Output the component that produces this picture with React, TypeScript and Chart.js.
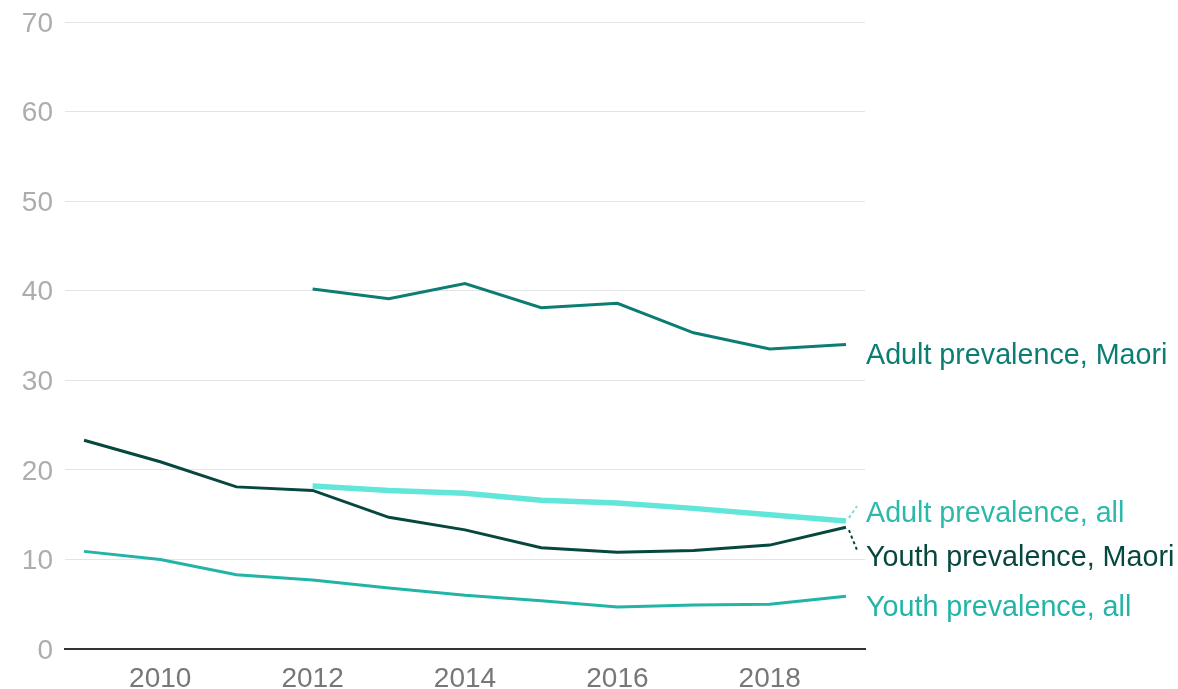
import React, { useEffect, useRef } from "react";
import { Chart, registerables } from "chart.js";

Chart.register(...registerables);

const YEARS_ALL = [2009, 2010, 2011, 2012, 2013, 2014, 2015, 2016, 2017, 2018, 2019];
const YEARS_ADULT = [2012, 2013, 2014, 2015, 2016, 2017, 2018, 2019];

const adultMaori = [40.2, 39.1, 40.8, 38.1, 38.6, 35.3, 33.5, 34.0];
const adultAll = [18.2, 17.7, 17.4, 16.6, 16.3, 15.7, 15.0, 14.3];
const youthMaori = [23.3, 20.9, 18.1, 17.7, 14.7, 13.3, 11.3, 10.8, 11.0, 11.6, 13.6];
const youthAll = [10.9, 10.0, 8.3, 7.7, 6.8, 6.0, 5.4, 4.7, 4.9, 5.0, 5.9];

const X_TICKS = [2010, 2012, 2014, 2016, 2018];
const Y_TICKS = [0, 10, 20, 30, 40, 50, 60, 70];

const SERIES = [
  { name: "Adult prevalence, Maori", years: YEARS_ADULT, values: adultMaori, line: "#0c7d72", text: "#0c7d72", width: 3 },
  { name: "Adult prevalence, all", years: YEARS_ADULT, values: adultAll, line: "#62e6d9", text: "#2cb9ab", width: 5.5 },
  { name: "Youth prevalence, Maori", years: YEARS_ALL, values: youthMaori, line: "#06473f", text: "#06473f", width: 3 },
  { name: "Youth prevalence, all", years: YEARS_ALL, values: youthAll, line: "#21b4a7", text: "#21b4a7", width: 3 },
];

const labelPlugin = {
  id: "endLabels",
  afterDatasetsDraw(chart: any) {
    const { ctx, chartArea, scales } = chart;
    const y = scales.y;
    const x = scales.x;
    const off = 12;
    const items = SERIES.map((s, i) => {
      const v = s.values[s.values.length - 1];
      const py = y.getPixelForValue(v);
      const px = x.getPixelForValue(s.years[s.years.length - 1]);
      return { s, i, py, px, center: py + off };
    });
    const sorted = [...items].sort((a, b) => a.center - b.center);
    const gap = 44;
    for (let iter = 0; iter < 20; iter++) {
      for (let k = 0; k < sorted.length - 1; k++) {
        const a = sorted[k], b = sorted[k + 1];
        const d = b.center - a.center;
        if (d < gap) {
          const push = (gap - d) / 2;
          a.center -= push;
          b.center += push;
        }
      }
    }
    ctx.save();
    ctx.font = "28.7px 'Liberation Sans', Arial, sans-serif";
    ctx.textBaseline = "middle";
    ctx.textAlign = "left";
    items.forEach((it) => {
      const desired = it.py + off;
      if (Math.abs(it.center - desired) > 4) {
        const up = it.center < desired;
        ctx.beginPath();
        ctx.setLineDash([3, 3]);
        ctx.lineWidth = 2;
        ctx.strokeStyle = it.s.line;
        ctx.moveTo(it.px + 3, it.py + (up ? -3 : 3));
        ctx.lineTo(chartArea.right - 8, it.center - 8);
        ctx.stroke();
        ctx.setLineDash([]);
      }
      ctx.fillStyle = it.s.text;
      ctx.fillText(it.s.name, chartArea.right + 1, it.center);
    });
    ctx.restore();
  },
};

export default function App() {
  const ref = useRef<HTMLCanvasElement | null>(null);
  useEffect(() => {
    document.body.style.margin = "0";
    const chart = new Chart(ref.current!, {
      type: "line",
      data: {
        datasets: SERIES.map((s) => ({
          label: s.name,
          data: s.years.map((yr, i) => ({ x: yr, y: s.values[i] })),
          borderColor: s.line,
          backgroundColor: s.line,
          borderWidth: s.width,
          pointRadius: 0,
          tension: 0,
          fill: false,
        })),
      },
      options: {
        animation: false,
        responsive: true,
        maintainAspectRatio: false,
        layout: { padding: { top: 22, right: 313, left: 0, bottom: 0 } },
        plugins: { legend: { display: false }, tooltip: { enabled: false } },
        scales: {
          x: {
            type: "linear",
            min: 2008.75,
            max: 2019.25,
            afterBuildTicks: (scale: any) => {
              scale.ticks = X_TICKS.map((v) => ({ value: v }));
            },
            afterFit: (scale: any) => {
              scale.height = 40;
              scale.paddingLeft = 0;
              scale.paddingRight = 0;
            },
            grid: { display: false, drawTicks: false },
            border: { display: true, color: "#333333", width: 2 },
            ticks: {
              color: "#777777",
              padding: 13,
              font: { family: "'Liberation Sans', Arial, sans-serif", size: 28 },
              callback: (v: any) => String(v),
              maxRotation: 0,
            },
          },
          y: {
            min: 0,
            max: 70,
            afterBuildTicks: (scale: any) => {
              scale.ticks = Y_TICKS.map((v) => ({ value: v }));
            },
            afterFit: (scale: any) => {
              scale.width = 65;
              scale.paddingTop = 0;
              scale.paddingBottom = 0;
            },
            grid: { color: "#e4e4e4", lineWidth: 1, drawTicks: false },
            border: { display: false },
            ticks: {
              color: "#adadad",
              padding: 12,
              labelOffset: 2,
              font: { family: "'Liberation Sans', Arial, sans-serif", size: 28 },
              callback: (v: any) => String(v),
            },
          },
        },
      },
      plugins: [labelPlugin],
    } as any);
    return () => chart.destroy();
  }, []);
  return (
    <div style={{ position: "absolute", left: 0, top: 0, width: 1178, height: 689 }}>
      <canvas ref={ref} />
    </div>
  );
}
